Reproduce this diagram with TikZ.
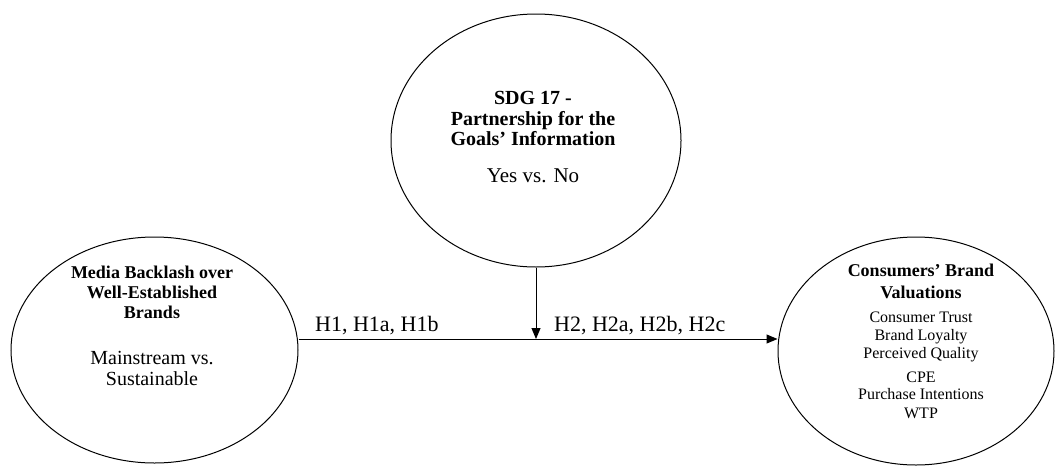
\documentclass[tikz,border=0pt]{standalone}
\usepackage{fontspec}
\setmainfont{Liberation Serif}
\usetikzlibrary{shapes.geometric,arrows.meta}
\begin{document}
\begin{tikzpicture}[x=1pt,y=-1pt,
  ell/.style={draw, ellipse, line width=1pt, inner sep=0pt},
  conn/.style={line width=1pt, -{Triangle[length=11pt,width=9pt]}},
  tl/.style={anchor=base, inner sep=0pt},
  bA/.style={tl, font=\fontsize{18}{20}\selectfont\bfseries},
  bB/.style={tl, font=\fontsize{20}{22}\selectfont\bfseries},
  rA/.style={tl, font=\fontsize{20}{23}\selectfont},
  rB/.style={tl, font=\fontsize{21}{24}\selectfont},
  rC/.style={tl, font=\fontsize{16}{18}\selectfont},
  hl/.style={anchor=base west, inner sep=0pt, font=\fontsize{22}{24}\selectfont}]
\useasboundingbox (0,0) rectangle (1055,466);
% ellipses
\node[ell, minimum width=287pt, minimum height=226pt] (left) at (154.5,350) {};
\node[ell, minimum width=276pt, minimum height=228pt] (right) at (916,351) {};
\node[ell, minimum width=290pt, minimum height=253pt] (top) at (536,140.5) {};
% left texts
\node[bA] (l1) at (152,278) {Media Backlash over};
\node[bA] (l2) at (152,298) {Well-Established};
\node[bA] (l3) at (152,318) {Brands};
\node[rA] (l4) at (152,364) {Mainstream vs.};
\node[rA] (l5) at (152,385) {Sustainable};
% top texts
\node[bB] (t1) at (533,104) {SDG 17 -};
\node[bB] (t2) at (533,125) {Partnership for the};
\node[bB] (t3) at (533,145) {Goals’ Information};
\node[rB] (t4) at (533,182) {Yes vs. No};
% right texts
\node[bA] (r1) at (921,276) {Consumers’ Brand};
\node[bA] (r2) at (921,298) {Valuations};
\node[rC] (r3) at (921,322) {Consumer Trust};
\node[rC] (r4) at (921,340) {Brand Loyalty};
\node[rC] (r5) at (921,358) {Perceived Quality};
\node[rC] (r6) at (921,382) {CPE};
\node[rC] (r7) at (921,399) {Purchase Intentions};
\node[rC] (r8) at (921,418) {WTP};
% connectors
\coordinate (j) at (536,339);
\draw[conn] (left.east |- j) -- (right.west |- j);
\draw[conn] (top.south) -- (j);
% labels
\node[hl] (h1) at (315,331) {H1, H1a, H1b};
\node[hl] (h2) at (554,331) {H2, H2a, H2b, H2c};
\end{tikzpicture}
\end{document}
